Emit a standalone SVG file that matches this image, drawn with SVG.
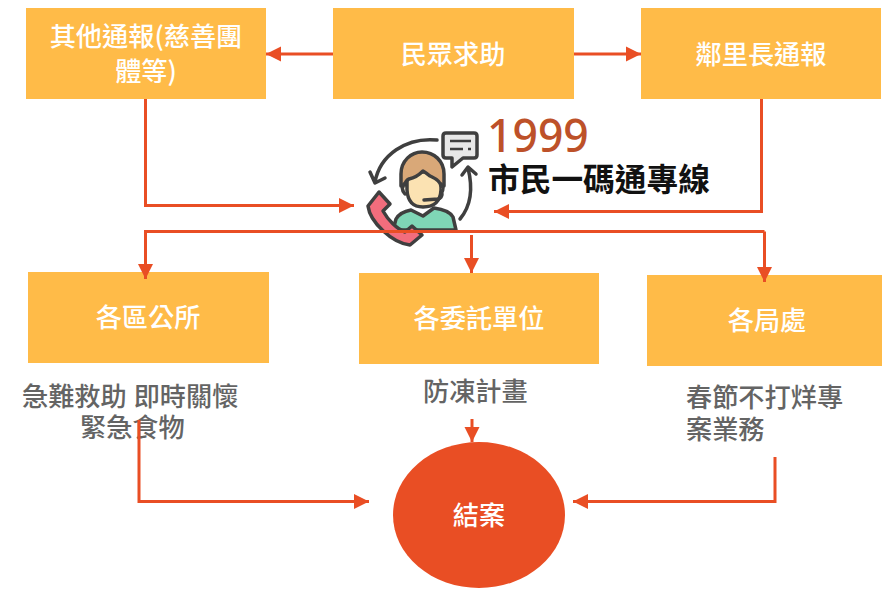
<svg xmlns="http://www.w3.org/2000/svg" width="882" height="589" viewBox="0 0 882 589">
<defs>
<marker id="ah" markerUnits="userSpaceOnUse" markerWidth="16" markerHeight="16" refX="15" refY="8" orient="auto"><path d="M0 0.5L15 8L0 15.500z" fill="#E94E24"/></marker>
</defs>
<style>
text{font-family:"Noto Sans CJK TC","Noto Sans CJK SC",sans-serif;}
.box{fill:#FFBB48;}
.w{fill:#fff;font-size:26.200px;font-weight:500;text-anchor:middle;}
.g{fill:#646464;font-size:26.200px;font-weight:500;}
.c{fill:none;stroke:#E94E24;stroke-width:3;}
.a{marker-end:url(#ah);}
.ic{stroke:#3f3f3f;stroke-width:3.500;stroke-linejoin:round;stroke-linecap:round;}
</style>
<rect width="882" height="589" fill="#fff"/>
<g id="n-other"><rect class="box" x="26" y="8" width="240" height="91"/><text class="w" x="146" y="46">其他通報(慈善團</text><text class="w" x="146" y="81">體等)</text></g>
<g id="n-public"><rect class="box" x="333" y="8" width="241" height="91"/><text class="w" x="453" y="64">民眾求助</text></g>
<g id="n-chief"><rect class="box" x="641" y="8" width="240" height="91"/><text class="w" x="761" y="64">鄰里長通報</text></g>
<g id="n-1999">
<path class="ic" fill="none" d="M437 140C406 137 380 155 375 182M370 172L375 183L385 178M460 219C471 206 473 188 468 168M462 175L468 167L476 174"/>
<path class="ic" fill="#e8e8e8" d="M446 133H474Q477 133 477 136V155Q477 158 474 158H463L452 167V158H446Q443 158 443 155V136Q443 133 446 133Z"/>
<path d="M450 141H471M450 149H463M468 149H471" stroke="#3f3f3f" stroke-width="2.500" fill="none"/>
<path class="ic" fill="#7FD6B6" d="M393 230L396 219Q400 212 411 210L423 216L434 208Q449 210 453 217L456 230Z"/>
<path class="ic" fill="#FBE2B2" d="M407 172H441V190Q440 207 423 207Q408 207 407 190Z"/>
<path class="ic" fill="#D9A878" d="M401 186V174C401 161 411 152 422 152C434 152 444 161 444 174V186L441 186C440 180 434 178 430 176C427 174 425 172 423 171C420 174 414 178 409 179C406 180 405 183 404 186Z"/>
<path class="ic" fill="#FBE2B2" stroke-width="2.500" d="M404 184Q400 188 405 194M441 184Q445 188 441 194"/>
<path class="ic" fill="none" stroke-width="2.500" d="M424 200L438 199Q442 198 442 194"/>
<path class="ic" fill="#F26D7D" d="M379 192L390 204L383 211C388 220 397 229 405 232L412 226L422 235L410 245C392 243 370 222 368 206Z"/>
<text x="487" y="152" font-size="44.500" font-weight="500" fill="#BD5129" style="font-family:'Noto Sans','Noto Sans CJK TC',sans-serif">1999</text>
<text x="488" y="191" font-size="31.700" font-weight="700" fill="#111">市民一碼通專線</text>
</g>
<g id="n-district"><rect class="box" x="28" y="272" width="241" height="91"/><text class="w" x="148" y="327">各區公所</text></g>
<g id="n-agency"><rect class="box" x="359" y="273" width="240" height="91"/><text class="w" x="479" y="328">各委託單位</text></g>
<g id="n-bureau"><rect class="box" x="647" y="275" width="235" height="91"/><text class="w" x="767" y="330">各局處</text></g>
<g id="n-end"><ellipse cx="479" cy="515" rx="86" ry="73" fill="#E94E24"/><text class="w" x="479" y="525">結案</text></g>
<g id="labels">
<text class="g" x="22" y="406" word-spacing="1">急難救助 即時關懷</text>
<text class="g" x="80" y="437">緊急食物</text>
<text class="g" x="423" y="401">防凍計畫</text>
<text class="g" x="686" y="407">春節不打烊專</text>
<text class="g" x="686" y="439">案業務</text>
</g>
<g id="connectors">
<path class="c a" d="M333 54H266"/>
<path class="c a" d="M574 54H641"/>
<path class="c a" d="M145.500 99V205.500H354"/>
<path class="c a" d="M761.500 99V211.500H494"/>
<path class="c a" d="M764.500 231.500H145.500V279"/>
<path class="c a" d="M764.500 231.500V282"/>
<path class="c a" d="M471.500 235V273"/>
<path class="c a" d="M472 419V442"/>
<path class="c a" d="M139 420V501.500H369"/>
<path class="c a" d="M775 457V501.500H573"/>
</g>
</svg>
